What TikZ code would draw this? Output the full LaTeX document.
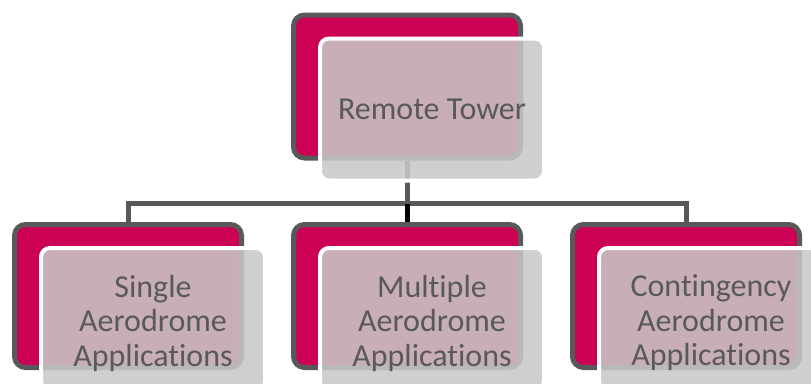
\documentclass[tikz,border=0pt]{standalone}
\usepackage{fontspec}
\setmainfont{Carlito}[Ligatures={NoCommon,NoContextual}]
\usetikzlibrary{backgrounds}
\definecolor{berry}{RGB}{204,0,84}
\definecolor{edge}{RGB}{89,89,89}
\definecolor{veil}{RGB}{200,200,200}
\tikzset{
  backbox/.style={draw=edge, line width=5pt, fill=berry, rounded corners=11pt,
    minimum width=227pt, minimum height=143pt, inner sep=0pt},
  frontbox/.style={draw=white, line width=4pt, fill=veil, fill opacity=0.87,
    text opacity=1, rounded corners=9pt, minimum width=224pt, minimum height=142pt,
    inner sep=0pt, text=edge, font=\fontsize{32}{34.5}\selectfont, align=center},
  caption/.style={draw=none, fill=none, fill opacity=1, text opacity=1,
    inner sep=0pt, text=edge, font=\fontsize{32}{34.5}\selectfont, align=center,
    yshift=-4pt},
  link/.style={draw=edge, line width=5pt},
}
\begin{document}
\begin{tikzpicture}[x=1pt,y=-1pt]
\useasboundingbox (0,0) rectangle (811,383);
\clip (0,0) rectangle (811,383);
% back panels
\node[backbox] (root)  at (407,86.5) {};
\node[backbox] (left)  at (128,296) {};
\node[backbox] (mid)   at (407,296) {};
\node[backbox] (right) at (686,296) {};
% connectors behind the panels
\coordinate (bus) at (407,203.5);
\begin{pgfonlayer}{background}
  \draw[link] (root.south) -- (root.south |- bus);
  \draw[link] (left.north) |- (right.north |- bus) -- (right.north);
  \draw[link, draw=black] (bus) -- (mid.north);
\end{pgfonlayer}
% front panels with labels
\node[frontbox] (rootf)  at (432,109.5) {Remote Tower};
\node[frontbox, label={[caption]center:Single\\Aerodrome\\Applications}]
  (leftf)  at (153,319) {};
\node[frontbox, label={[caption]center:Multiple\\Aerodrome\\Applications}]
  (midf)   at (432,319) {};
\node[frontbox, label={[caption]center:Contingency\\Aerodrome\\Applications}]
  (rightf) at (711,319) {};
\end{tikzpicture}
\end{document}
